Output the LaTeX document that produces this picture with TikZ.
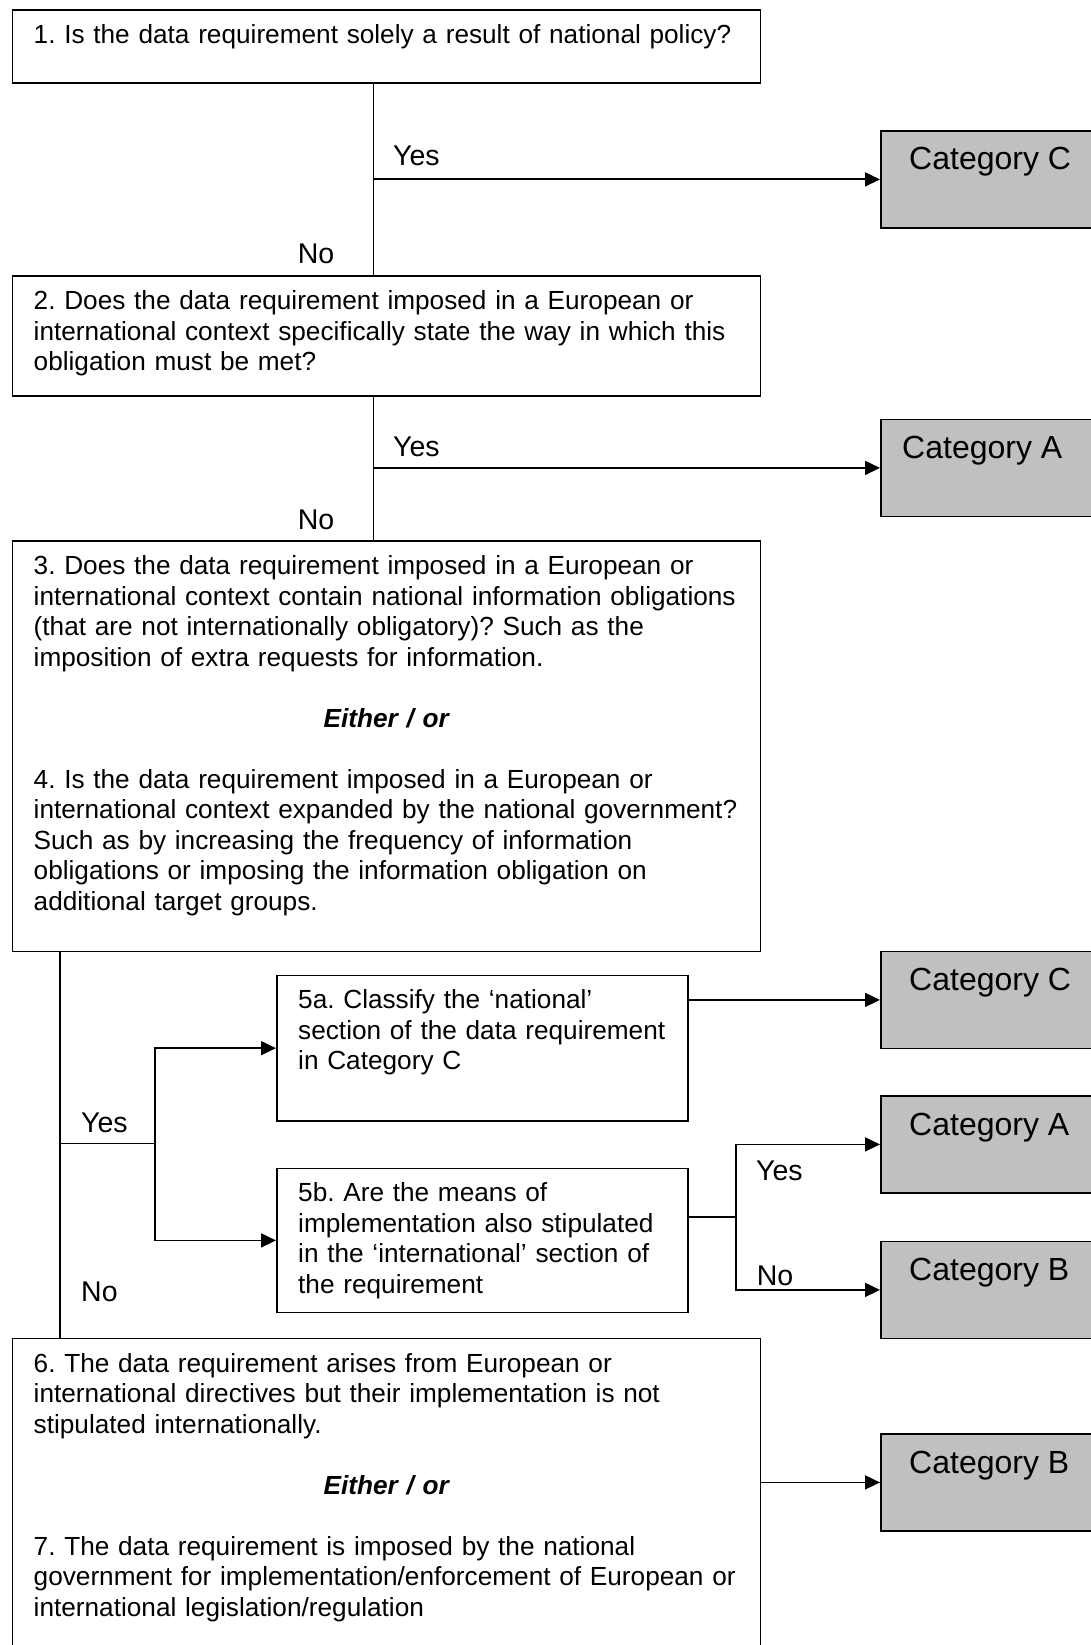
\documentclass[tikz,border=0pt]{standalone}
\usepackage{fontspec}
\setmainfont{Liberation Sans}
\usepackage{tikz}
\usetikzlibrary{calc}
\usetikzlibrary{arrows.meta}
\frenchspacing
\definecolor{catgrey}{HTML}{C0C0C0}
\tikzset{>={Triangle[length=15pt,width=14pt]}}
\tikzset{
  qbox/.style={draw, line width=1.8pt, anchor=north west, inner sep=0pt,
    minimum width=748pt},
  subbox/.style={draw, line width=1.8pt, anchor=north west, inner sep=0pt,
    minimum width=411pt},
  catbox/.style={draw, line width=1.8pt, fill=catgrey, anchor=north west,
    inner sep=0pt, minimum width=230pt, minimum height=97pt},
  qtext/.style={anchor=base west, inner sep=0pt, text width=800pt, align=left},
  cattext/.style={anchor=base west, inner sep=0pt,
    font=\fontsize{32}{36}\selectfont},
  answer/.style={anchor=base west, inner sep=0pt,
    font=\fontsize{28.5}{32}\selectfont},
  link/.style={line width=1.8pt}
}

\begin{document}
\begin{tikzpicture}[x=1pt, y=-1pt, font=\fontsize{26.2}{30.5}\selectfont]
      \clip (0,0) rectangle (1091,1645);

      \node [qbox, minimum height=72.4pt] (q1) at (11.5,9.4) {};
      \node [qtext] (q1t) at ($(q1.north west)+(22,34.5)$)
      {1. Is the data requirement solely a result of national policy?};

      \node [qbox, minimum height=120pt] (q2) at (11.5,275) {};
      \node [qtext] (q2t) at ($(q2.north west)+(22,34.5)$)
      {2. Does the data requirement imposed in a European or\\
      international context specifically state the way in which this\\
      obligation must be met?};

      \node [qbox, minimum height=410.5pt] (q3) at (11.5,540) {};
      \node [qtext] (q3t) at ($(q3.north west)+(22,34.5)$)
      {3. Does the data requirement imposed in a European or\\
      international context contain national information obligations\\
      (that are not internationally obligatory)? Such as the\\
      imposition of extra requests for information.\\[30.5pt]
      \makebox[705pt][c]{\bfseries\itshape Either / or}\\[30.5pt]
      4. Is the data requirement imposed in a European or\\
      international context expanded by the national government?\\
      Such as by increasing the frequency of information\\
      obligations or imposing the information obligation on\\
      additional target groups.};

      \node [subbox, minimum height=145.5pt] (a5) at (276,974.5) {};
      \node [qtext] (a5t) at ($(a5.north west)+(22,34)$)
      {5a. Classify the ‘national’\\
      section of the data requirement\\
      in Category C};

      \node [subbox, minimum height=144pt] (b5) at (276,1167.5) {};
      \node [qtext] (b5t) at ($(b5.north west)+(22,34)$)
      {5b. Are the means of\\
      implementation also stipulated\\
      in the ‘international’ section of\\
      the requirement};

      \node [qbox, minimum height=400pt] (q6) at (11.5,1337.5) {};
      \node [qtext] (q6t) at ($(q6.north west)+(22,34.5)$)
      {6. The data requirement arises from European or\\
      international directives but their implementation is not\\
      stipulated internationally.\\[30.5pt]
      \makebox[705pt][c]{\bfseries\itshape Either / or}\\[30.5pt]
      7. The data requirement is imposed by the national\\
      government for implementation/enforcement of European or\\
      international legislation/regulation};

      \node [catbox] (c1) at (880,130) {};
      \node [cattext] (c1t) at ($(c1.north west)+(29,40)$) {Category C};
      \node [catbox] (c2) at (880,418.5) {};
      \node [cattext] (c2t) at ($(c2.north west)+(22,40)$) {Category A};
      \node [catbox] (c3) at (880,950.5) {};
      \node [cattext] (c3t) at ($(c3.north west)+(29,40)$) {Category C};
      \node [catbox] (c4) at (880,1095) {};
      \node [cattext] (c4t) at ($(c4.north west)+(29,40)$) {Category A};
      \node [catbox] (c5) at (880,1240.5) {};
      \node [cattext] (c5t) at ($(c5.north west)+(29,40)$) {Category B};
      \node [catbox] (c6) at (880,1433) {};
      \node [cattext] (c6t) at ($(c6.north west)+(29,40)$) {Category B};

      \coordinate (j1) at (373.5,0);
      \coordinate (j3) at (60,1143.5);
      \coordinate (j4) at (155,1143.5);
      \coordinate (j5) at (736,1216.7);

      \draw [link] (j1 |- q1.south) -- (j1 |- q2.north);
      \draw [link, ->] (j1 |- c1.west) -- (c1.west);
      \draw [link] (j1 |- q2.south) -- (j1 |- q3.north);
      \draw [link, ->] (j1 |- c2.west) -- (c2.west);

      \draw [link] (j3 |- q3.south) -- (j3 |- q6.north);
      \draw [link] (j3) -- (j4);
      \draw [link, ->] (j4) |- (a5.west);
      \draw [link, ->] (j4) |- (b5.west);

      \draw [link, ->] (a5.east |- c3.west) -- (c3.west);
      \draw [link] (b5.east |- j5) -- (j5);
      \draw [link, ->] (j5) |- (c4.west);
      \draw [link, ->] (j5) |- (c5.west);
      \draw [link, ->] (q6.east |- c6.west) -- (c6.west);

      \node [answer] (y1) at (393,166) {Yes};
      \node [answer] (n1) at (297.7,264) {No};
      \node [answer] (y2) at (393,456.6) {Yes};
      \node [answer] (n2) at (297.7,529) {No};
      \node [answer] (y3) at (81,1132) {Yes};
      \node [answer] (n3) at (81,1301) {No};
      \node [answer] (y4) at (756,1180.7) {Yes};
      \node [answer] (n4) at (756.7,1285) {No};
  \end{tikzpicture}
\end{document}
